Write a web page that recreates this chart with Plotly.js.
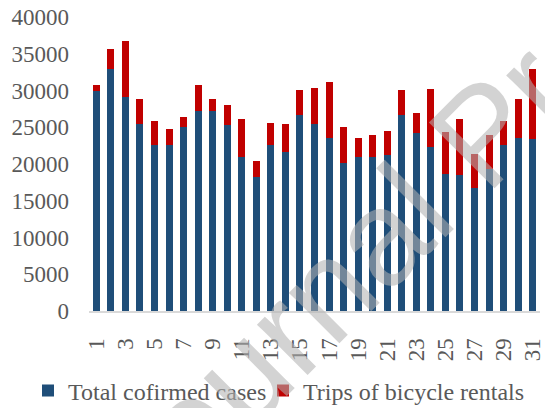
<!DOCTYPE html>
<html>
<head>
<meta charset="utf-8">
<script src="https://cdn.plot.ly/plotly-3.0.1.min.js"></script>
<style>
  html, body { margin: 0; padding: 0; background: #ffffff; }
  #chart { width: 545px; height: 408px; }
</style>
</head>
<body>
<div id="chart"></div>
<script>
const days = ["1","2","3","4","5","6","7","8","9","10","11","12","13","14","15","16","17","18","19","20","21","22","23","24","25","26","27","28","29","30","31"];
const confirmedCases = [29900,32900,29100,25500,22600,22600,25000,27200,27200,25300,20900,18200,22600,21700,26600,25500,23600,20100,20900,20900,21200,26600,24200,22300,18700,18500,16800,19300,22600,23600,23400];
const bicycleTrips = [800,2700,7600,3300,3200,2100,1400,3500,1600,2700,5200,2200,3000,3800,3500,4900,7600,4900,2700,3000,3300,3500,2700,7900,5700,7600,4600,4600,3200,5200,9500];
const shownTicks = ["1","3","5","7","9","11","13","15","17","19","21","23","25","27","29","31"];
const seriesNames = ["Total cofirmed cases", "Trips of bicycle rentals"];
const watermarkText = "Journal Pre-proof";

const serif = "Liberation Serif, Times New Roman, serif";
const textColor = "#595959";

const traces = [
  { type: "bar", name: seriesNames[0], x: days, y: confirmedCases, marker: { color: "#1F4E79" }, legend: "legend" },
  { type: "bar", name: seriesNames[1], x: days, y: bicycleTrips, marker: { color: "#C00000" }, legend: "legend2" }
];

const legendBase = {
  orientation: "h",
  xref: "container", yref: "container",
  xanchor: "left",
  y: 0.042, yanchor: "middle",
  font: { family: serif, size: 24, color: textColor },
  bgcolor: "rgba(0,0,0,0)"
};

const layout = {
  width: 545, height: 408,
  margin: { l: 89, r: 5, t: 17, b: 97 },
  paper_bgcolor: "#ffffff", plot_bgcolor: "#ffffff",
  barmode: "stack",
  bargap: 0.52,
  showlegend: true,
  font: { family: serif, color: textColor, size: 23 },
  xaxis: {
    type: "category",
    tickmode: "array", tickvals: shownTicks, ticktext: shownTicks,
    tickangle: -90,
    showgrid: false, zeroline: false,
    showline: true, linecolor: "#d9d9d9", linewidth: 2,
    ticks: "", ticklabelstandoff: 16,
    tickfont: { family: serif, size: 23, color: textColor },
    fixedrange: true
  },
  yaxis: {
    range: [0, 40000], dtick: 5000, tick0: 0, tickformat: "d",
    showgrid: false, zeroline: false, showline: false,
    ticks: "", ticklabelstandoff: 19,
    tickfont: { family: serif, size: 23, color: textColor },
    fixedrange: true
  },
  legend: Object.assign({}, legendBase, { x: 28 / 545 }),
  legend2: Object.assign({}, legendBase, { x: 263 / 545 }),
  annotations: [{
    text: watermarkText,
    xref: "paper", yref: "paper",
    x: 0.874, y: 0.605,
    xanchor: "center", yanchor: "middle",
    showarrow: false,
    textangle: -45,
    font: { family: "Liberation Sans, Arial, sans-serif", size: 135, color: "rgba(178,178,178,0.57)" }
  }]
};

Plotly.newPlot("chart", traces, layout, { displayModeBar: false, staticPlot: true });
</script>
</body>
</html>
